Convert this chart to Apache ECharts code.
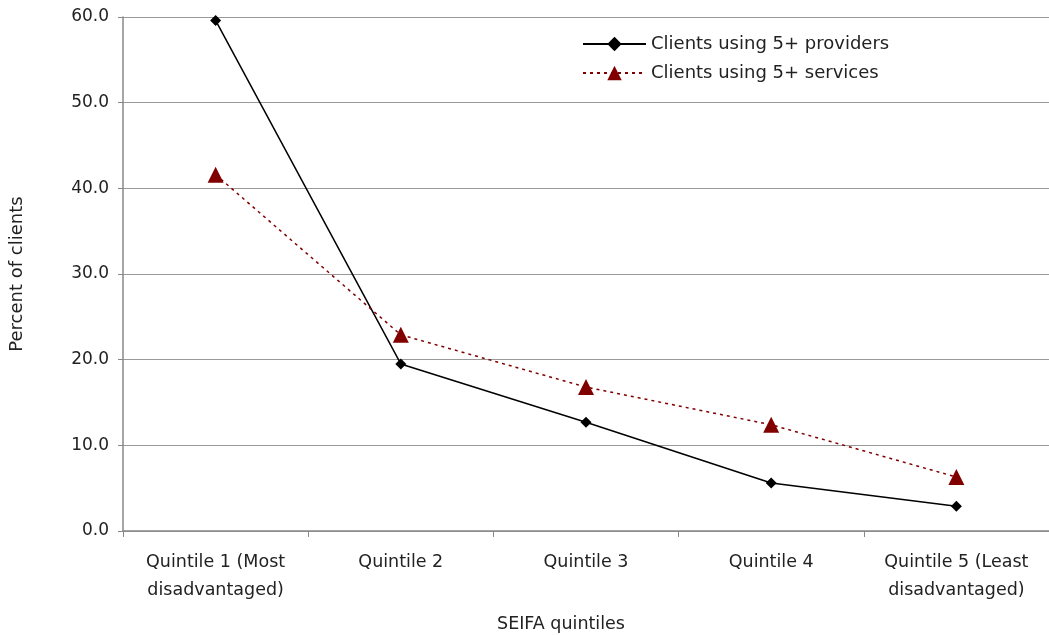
<!DOCTYPE html>
<html><head><meta charset="utf-8">
<script src="https://cdn.jsdelivr.net/npm/echarts@6/dist/echarts.min.js"></script>
<style>html,body{margin:0;padding:0;background:#fff}#c{width:1049px;height:635px}</style>
</head><body><div id="c"></div>
<script>
const categories = ["Quintile 1 (Most\ndisadvantaged)", "Quintile 2", "Quintile 3", "Quintile 4", "Quintile 5 (Least\ndisadvantaged)"];
const providers = [59.6, 19.5, 12.7, 5.6, 2.9];
const services = [41.6, 22.9, 16.8, 12.4, 6.3];
const yTicks = {min: 0, max: 60, interval: 10};

const font = "'DejaVu Sans', sans-serif";
const chart = echarts.init(document.getElementById('c'), null, {renderer: 'canvas'});
chart.setOption({
  animation: false,
  backgroundColor: '#fff',
  textStyle: {fontFamily: font},
  grid: {left: 123, right: 0, top: 17, bottom: 104, containLabel: false, outerBoundsMode: 'none'},
  legend: {
    orient: 'vertical', left: 577, top: 30, itemWidth: 63, itemHeight: 18, itemGap: 11,
    textStyle: {fontSize: 18, color: '#222', fontFamily: font},
    data: ['Clients using 5+ providers', 'Clients using 5+ services']
  },
  xAxis: {
    type: 'category', data: categories, boundaryGap: true,
    name: 'SEIFA quintiles', nameLocation: 'middle', nameGap: 84,
    nameTextStyle: {fontSize: 17.5, color: '#222', padding: [0, 50, 0, 0]},
    axisLine: {lineStyle: {color: '#888', width: 1.5}},
    axisTick: {show: true, length: 6, lineStyle: {color: '#888'}},
    axisLabel: {fontSize: 17.5, color: '#222', margin: 17, lineHeight: 28, interval: 0}
  },
  yAxis: {
    type: 'value', min: yTicks.min, max: yTicks.max, interval: yTicks.interval,
    name: 'Percent of clients', nameLocation: 'middle', nameGap: 97,
    nameTextStyle: {fontSize: 18, color: '#222'},
    axisLine: {show: true, lineStyle: {color: '#888', width: 1.5}},
    axisTick: {show: true, length: 5, lineStyle: {color: '#888'}},
    axisLabel: {fontSize: 17, color: '#222', margin: 14, formatter: v => v.toFixed(1)},
    splitLine: {lineStyle: {color: '#999', width: 1}}
  },
  series: [
    {
      name: 'Clients using 5+ providers', type: 'line', data: providers,
      symbol: 'diamond', symbolSize: 11,
      lineStyle: {color: '#000', width: 1.5}, itemStyle: {color: '#000'}
    },
    {
      name: 'Clients using 5+ services', type: 'line', data: services,
      symbol: 'triangle', symbolSize: 16,
      lineStyle: {color: '#800000', width: 1.5, type: [3, 4]}, itemStyle: {color: '#800000'}
    }
  ]
});
</script></body></html>
